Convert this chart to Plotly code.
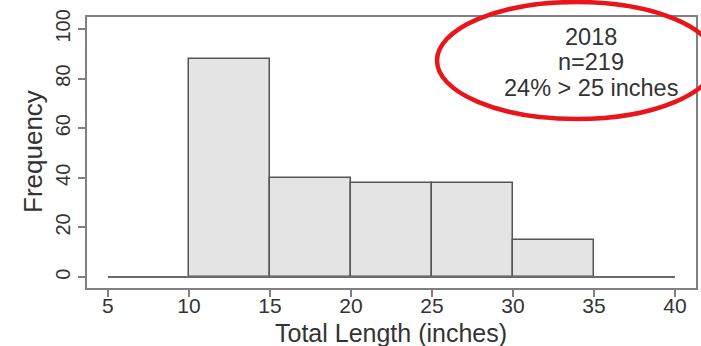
import plotly.graph_objects as go

# Histogram of total length (inches), 5-inch bins
bin_starts = [10, 15, 20, 25, 30]
bin_width = 5
counts = [88, 40, 38, 38, 15]
x_ticks = [5, 10, 15, 20, 25, 30, 35, 40]
y_ticks = [0, 20, 40, 60, 80, 100]
summary_lines = ["2018", "n=219", "24% > 25 inches"]

FONT = "Liberation Sans, Arial, sans-serif"
FRAME = "#808080"
TEXT = "#333333"

# plot-area geometry in pixels (used to place the paper-referenced text)
W, H = 701, 346
L, R, T, B = 87, 5, 17, 58
PW, PH = W - L - R, H - T - B


def px_to_paper(px, py):
    return (px - L) / PW, (H - B - py) / PH


fig = go.Figure()

# baseline spanning the full tick range
fig.add_trace(go.Scatter(
    x=[x_ticks[0], x_ticks[-1]], y=[0, 0], mode="lines",
    line=dict(color="#6a6a6a", width=2), hoverinfo="skip", showlegend=False,
))

fig.add_trace(go.Bar(
    x=[s + bin_width / 2 for s in bin_starts], y=counts, width=bin_width,
    marker=dict(color="#e4e4e4", line=dict(color="#555555", width=1.5)),
    showlegend=False,
))

fig.update_layout(
    width=W, height=H,
    margin=dict(l=L, r=R, t=T, b=B),
    paper_bgcolor="white", plot_bgcolor="white",
    font=dict(family=FONT, color=TEXT),
    bargap=0,
    xaxis=dict(
        range=[3.71, 41.3], tickvals=x_ticks, showgrid=False, zeroline=False,
        showline=True, mirror=True, linecolor=FRAME, linewidth=2,
        ticks="outside", ticklen=7, tickcolor=FRAME, tickwidth=1.5,
        tickfont=dict(size=21, color=TEXT), automargin=False,
        ticklabelstandoff=-9,
    ),
    yaxis=dict(
        range=[-4.4, 104.8], tickvals=y_ticks, showgrid=False, zeroline=False,
        showline=True, mirror=True, linecolor=FRAME, linewidth=2,
        ticks="outside", ticklen=7, tickcolor=FRAME, tickwidth=1.5,
        tickangle=-90, tickfont=dict(size=20, color=TEXT), automargin=False,
    ),
)

# axis titles
tx, ty = px_to_paper(391, 333)
fig.add_annotation(xref="paper", yref="paper", x=tx, y=ty, text="Total Length (inches)",
                   showarrow=False, font=dict(size=25, color=TEXT), yanchor="middle")
fx, fy = px_to_paper(33, 152)
fig.add_annotation(xref="paper", yref="paper", x=fx, y=fy, text="Frequency", textangle=-90,
                   showarrow=False, font=dict(size=26, color=TEXT),
                   xanchor="center", yanchor="middle")

# summary text in the upper-right corner
for line, py in zip(summary_lines, [36.5, 62, 87.5]):
    ax, ay = px_to_paper(591, py)
    fig.add_annotation(xref="paper", yref="paper", x=ax, y=ay, text=line, showarrow=False,
                       font=dict(size=23.5, color=TEXT), xanchor="center", yanchor="middle")

# red ellipse highlighting the summary
ex0, ey1 = px_to_paper(437, 119)
ex1, ey0 = px_to_paper(716, 2)
fig.add_shape(
    type="circle", xref="paper", yref="paper",
    x0=ex0, x1=ex1, y0=ey1, y1=ey0,
    line=dict(color="#e8151b", width=4.5),
)

fig.write_html("out.html")
